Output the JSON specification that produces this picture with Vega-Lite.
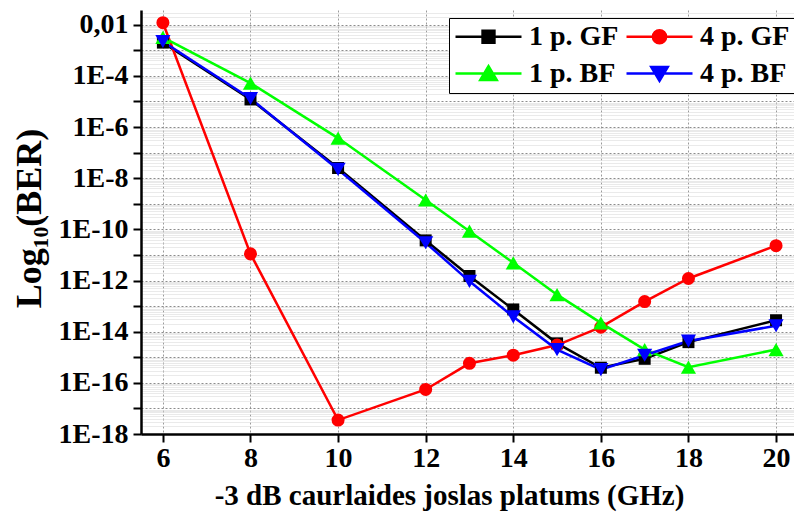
{
  "$schema": "https://vega.github.io/schema/vega-lite/v6.json",
  "width": 653,
  "height": 424,
  "autosize": {"type": "none"},
  "padding": {"left": 141, "top": 10, "right": 0, "bottom": 79},
  "background": "white",
  "config": {"view": {"stroke": null}, "font": "Liberation Serif"},
  "data": {
    "values": [
      {"series": "1 p. GF", "x": 6, "ber": 2.0e-3},
      {"series": "1 p. GF", "x": 8, "ber": 1.2e-5},
      {"series": "1 p. GF", "x": 10, "ber": 2.5e-8},
      {"series": "1 p. GF", "x": 12, "ber": 3.7e-11},
      {"series": "1 p. GF", "x": 13, "ber": 1.5e-12},
      {"series": "1 p. GF", "x": 14, "ber": 7.4e-14},
      {"series": "1 p. GF", "x": 15, "ber": 3.5e-15},
      {"series": "1 p. GF", "x": 16, "ber": 3.9e-16},
      {"series": "1 p. GF", "x": 17, "ber": 8.7e-16},
      {"series": "1 p. GF", "x": 18, "ber": 3.9e-15},
      {"series": "1 p. GF", "x": 20, "ber": 2.8e-14},
      {"series": "4 p. GF", "x": 6, "ber": 1.2e-2},
      {"series": "4 p. GF", "x": 8, "ber": 1.1e-11},
      {"series": "4 p. GF", "x": 10, "ber": 3.5e-18},
      {"series": "4 p. GF", "x": 12, "ber": 5.5e-17},
      {"series": "4 p. GF", "x": 13, "ber": 5.8e-16},
      {"series": "4 p. GF", "x": 14, "ber": 1.2e-15},
      {"series": "4 p. GF", "x": 15, "ber": 3.0e-15},
      {"series": "4 p. GF", "x": 16, "ber": 1.5e-14},
      {"series": "4 p. GF", "x": 17, "ber": 1.5e-13},
      {"series": "4 p. GF", "x": 18, "ber": 1.2e-12},
      {"series": "4 p. GF", "x": 20, "ber": 2.3e-11},
      {"series": "1 p. BF", "x": 6, "ber": 3.2e-3},
      {"series": "1 p. BF", "x": 8, "ber": 5.2e-5},
      {"series": "1 p. BF", "x": 10, "ber": 3.7e-7},
      {"series": "1 p. BF", "x": 12, "ber": 1.4e-9},
      {"series": "1 p. BF", "x": 13, "ber": 8.5e-11},
      {"series": "1 p. BF", "x": 14, "ber": 4.9e-12},
      {"series": "1 p. BF", "x": 15, "ber": 2.8e-13},
      {"series": "1 p. BF", "x": 16, "ber": 2.2e-14},
      {"series": "1 p. BF", "x": 17, "ber": 2.0e-15},
      {"series": "1 p. BF", "x": 18, "ber": 4.1e-16},
      {"series": "1 p. BF", "x": 20, "ber": 2.0e-15},
      {"series": "4 p. BF", "x": 6, "ber": 2.2e-3},
      {"series": "4 p. BF", "x": 8, "ber": 1.3e-5},
      {"series": "4 p. BF", "x": 10, "ber": 2.2e-8},
      {"series": "4 p. BF", "x": 12, "ber": 3.0e-11},
      {"series": "4 p. BF", "x": 13, "ber": 9.3e-13},
      {"series": "4 p. BF", "x": 14, "ber": 3.8e-14},
      {"series": "4 p. BF", "x": 15, "ber": 2.0e-15},
      {"series": "4 p. BF", "x": 16, "ber": 3.3e-16},
      {"series": "4 p. BF", "x": 17, "ber": 1.2e-15},
      {"series": "4 p. BF", "x": 18, "ber": 4.3e-15},
      {"series": "4 p. BF", "x": 20, "ber": 1.7e-14}
    ]
  },
  "encoding": {
    "x": {
      "field": "x",
      "type": "quantitative",
      "scale": {"domain": [5.5, 20.41], "nice": false, "zero": false},
      "axis": {
        "values": [6, 8, 10, 12, 14, 16, 18, 20],
        "title": "-3 dB caurlaides joslas platums (GHz)",
        "labelFont": "Liberation Serif",
        "labelFontWeight": "bold",
        "labelFontSize": 28,
        "labelColor": "black",
        "labelPadding": 2,
        "labelFlush": false,
        "labelOverlap": false,
        "tickColor": "black",
        "tickWidth": 2,
        "tickSize": 8,
        "domainColor": "black",
        "domainWidth": 2.5,
        "grid": true,
        "gridColor": "#9a9a9a",
        "gridDash": [2, 2],
        "gridWidth": 1,
        "titleFont": "Liberation Serif",
        "titleFontWeight": "bold",
        "titleFontSize": 29,
        "titleColor": "black",
        "titleX": 308,
        "titleY": 70,
        "titleBaseline": "alphabetic",
        "titleAlign": "center"
      }
    },
    "y": {
      "field": "ber",
      "type": "quantitative",
      "scale": {"type": "log", "domain": [1e-18, 0.0376], "nice": false},
      "axis": {
        "values": [
          1e-18, 2e-18, 3e-18, 4e-18, 5e-18, 6e-18, 7e-18, 8e-18, 9e-18,
          1e-17, 2e-17, 3e-17, 4e-17, 5e-17, 6e-17, 7e-17, 8e-17, 9e-17,
          1e-16, 2e-16, 3e-16, 4e-16, 5e-16, 6e-16, 7e-16, 8e-16, 9e-16,
          1e-15, 2e-15, 3e-15, 4e-15, 5e-15, 6e-15, 7e-15, 8e-15, 9e-15,
          1e-14, 2e-14, 3e-14, 4e-14, 5e-14, 6e-14, 7e-14, 8e-14, 9e-14,
          1e-13, 2e-13, 3e-13, 4e-13, 5e-13, 6e-13, 7e-13, 8e-13, 9e-13,
          1e-12, 2e-12, 3e-12, 4e-12, 5e-12, 6e-12, 7e-12, 8e-12, 9e-12,
          1e-11, 2e-11, 3e-11, 4e-11, 5e-11, 6e-11, 7e-11, 8e-11, 9e-11,
          1e-10, 2e-10, 3e-10, 4e-10, 5e-10, 6e-10, 7e-10, 8e-10, 9e-10,
          1e-9, 2e-9, 3e-9, 4e-9, 5e-9, 6e-9, 7e-9, 8e-9, 9e-9,
          1e-8, 2e-8, 3e-8, 4e-8, 5e-8, 6e-8, 7e-8, 8e-8, 9e-8,
          1e-7, 2e-7, 3e-7, 4e-7, 5e-7, 6e-7, 7e-7, 8e-7, 9e-7,
          1e-6, 2e-6, 3e-6, 4e-6, 5e-6, 6e-6, 7e-6, 8e-6, 9e-6,
          1e-5, 2e-5, 3e-5, 4e-5, 5e-5, 6e-5, 7e-5, 8e-5, 9e-5,
          1e-4, 2e-4, 3e-4, 4e-4, 5e-4, 6e-4, 7e-4, 8e-4, 9e-4,
          1e-3, 2e-3, 3e-3, 4e-3, 5e-3, 6e-3, 7e-3, 8e-3, 9e-3,
          1e-2, 2e-2, 3e-2
        ],
        "labelExpr": "abs(log(datum.value)/LN10 - round(log(datum.value)/LN10)) > 0.001 ? '' : (round(log(datum.value)/LN10) == -2 ? '0,01' : (round(log(datum.value)/LN10) % 2 == 0 ? '1E' + round(log(datum.value)/LN10) : ''))",
        "labelOverlap": false,
        "labelBound": false,
        "labelFlush": false,
        "labelFont": "Liberation Serif",
        "labelFontWeight": "bold",
        "labelFontSize": 28,
        "labelColor": "black",
        "labelPadding": 5,
        "tickSize": 8,
        "tickWidth": 2,
        "tickColor": "black",
        "tickOpacity": {"condition": {"test": "abs(log(datum.value)/LN10 - round(log(datum.value)/LN10)) < 0.001", "value": 1}, "value": 0},
        "domainColor": "black",
        "domainWidth": 2.5,
        "grid": true,
        "gridColor": {"condition": {"test": "abs(log(datum.value)/LN10 - round(log(datum.value)/LN10)) < 0.001", "value": "#8c8c8c"}, "value": "#d4d4d4"},
        "gridDash": {"condition": {"test": "abs(log(datum.value)/LN10 - round(log(datum.value)/LN10)) < 0.001", "value": [2, 2]}, "value": [1, 1]},
        "gridWidth": 1,
        "title": "Log₁₀(BER)",
        "titleFont": "Liberation Serif",
        "titleFontWeight": "bold",
        "titleFontSize": 36,
        "titleColor": "black",
        "titleX": -112,
        "titleY": 208,
        "titleAngle": -90,
        "titleAlign": "center",
        "titleBaseline": "middle"
      }
    },
    "color": {
      "field": "series",
      "type": "nominal",
      "scale": {
        "domain": ["1 p. GF", "4 p. GF", "1 p. BF", "4 p. BF"],
        "range": ["#000000", "#ff0000", "#00ff00", "#0000ff"]
      },
      "legend": {
        "title": null,
        "orient": "none",
        "direction": "horizontal",
        "legendX": 308,
        "legendY": 8,
        "columns": 2,
        "columnPadding": 6,
        "rowPadding": 8,
        "padding": 5,
        "clipHeight": 27,
        "strokeColor": "#000000",
        "fillColor": "white",
        "labelFont": "Liberation Serif",
        "labelFontWeight": "bold",
        "labelFontSize": 28,
        "labelColor": "black",
        "labelOffset": 6,
        "labelLimit": 0,
        "symbolSize": 4356,
        "symbolStrokeWidth": 2.5,
        "encode": {
          "symbols": {
            "update": {
              "shape": {"signal": "datum.value == '1 p. GF' ? 'M-1,0H1M-0.18,-0.18H0.18V0.18H-0.18Z' : (datum.value == '4 p. GF' ? 'M-1,0H1M-0.2,0A0.2,0.2,0,1,1,0.2,0A0.2,0.2,0,1,1,-0.2,0Z' : (datum.value == '1 p. BF' ? 'M-1,0H1M0,-0.22L0.25,0.2H-0.25Z' : 'M-1,0H1M0,0.22L0.25,-0.2H-0.25Z'))"},
              "fill": {"scale": "color", "field": "value"},
              "stroke": {"scale": "color", "field": "value"},
              "strokeWidth": {"value": 2.5},
              "size": {"value": 4356},
              "opacity": {"value": 1}
            }
          }
        }
      }
    }
  },
  "layer": [
    {
      "mark": {"type": "line", "strokeWidth": 2.5},
      "encoding": {}
    },
    {
      "transform": [{"filter": "datum.series == '1 p. GF'"}],
      "mark": {"type": "point", "filled": true, "opacity": 1, "shape": "square", "size": 144},
      "encoding": {}
    },
    {
      "transform": [{"filter": "datum.series == '4 p. GF'"}],
      "mark": {"type": "point", "filled": true, "opacity": 1, "shape": "circle", "size": 170},
      "encoding": {}
    },
    {
      "transform": [{"filter": "datum.series == '1 p. BF'"}],
      "mark": {"type": "point", "filled": true, "opacity": 1, "shape": "triangle-up", "size": 230},
      "encoding": {}
    },
    {
      "transform": [{"filter": "datum.series == '4 p. BF'"}],
      "mark": {"type": "point", "filled": true, "opacity": 1, "shape": "triangle-down", "size": 230},
      "encoding": {}
    }
  ]
}
